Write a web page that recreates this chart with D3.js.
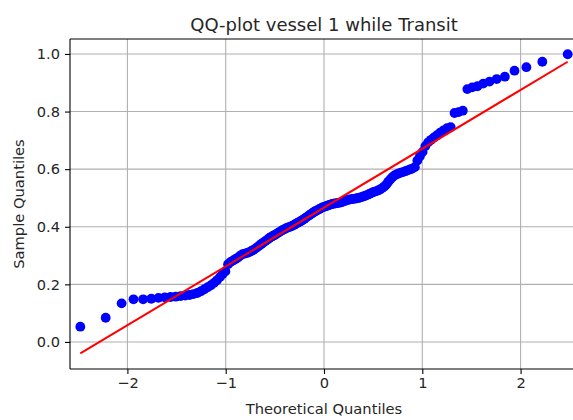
<!DOCTYPE html>
<html>
<head>
<meta charset="utf-8">
<script src="https://cdn.jsdelivr.net/npm/d3@7"></script>
<style>
  html, body { margin: 0; padding: 0; background: #fff; }
  svg { display: block; font-family: "DejaVu Sans", sans-serif; }
</style>
</head>
<body>
<svg id="chart" width="573" height="420"></svg>
<script>
// Theoretical normal quantiles (ascending)
const theoretical = [
  -2.479, -2.221, -2.059, -1.938, -1.840, -1.757, -1.684, -1.620, -1.561, -1.508,
  -1.458, -1.412, -1.369, -1.328, -1.289, -1.252, -1.217, -1.183, -1.150, -1.119,
  -1.089, -1.059, -1.031, -1.003, -0.976, -0.950, -0.924, -0.899, -0.875, -0.851,
  -0.828, -0.804, -0.782, -0.760, -0.738, -0.717, -0.695, -0.674, -0.654, -0.634,
  -0.614, -0.594, -0.574, -0.555, -0.536, -0.517, -0.498, -0.480, -0.461, -0.443,
  -0.425, -0.406, -0.389, -0.371, -0.354, -0.336, -0.319, -0.301, -0.284, -0.267,
  -0.250, -0.233, -0.216, -0.199, -0.183, -0.166, -0.149, -0.132, -0.116, -0.099,
  -0.083, -0.066, -0.050, -0.033, -0.017, 0.000, 0.017, 0.033, 0.050, 0.066,
  0.083, 0.099, 0.116, 0.132, 0.149, 0.166, 0.183, 0.199, 0.216, 0.233,
  0.250, 0.267, 0.284, 0.301, 0.319, 0.336, 0.354, 0.371, 0.389, 0.406,
  0.425, 0.443, 0.461, 0.480, 0.498, 0.517, 0.536, 0.555, 0.574, 0.594,
  0.614, 0.634, 0.654, 0.674, 0.695, 0.717, 0.738, 0.760, 0.782, 0.804,
  0.828, 0.851, 0.875, 0.899, 0.924, 0.950, 0.976, 1.003, 1.031, 1.059,
  1.089, 1.119, 1.150, 1.183, 1.217, 1.252, 1.289, 1.328, 1.369, 1.412,
  1.458, 1.508, 1.561, 1.620, 1.684, 1.757, 1.840, 1.938, 2.059, 2.221,
  2.479
];

// Ordered sample values
const sample = [
  0.053, 0.084, 0.134, 0.148, 0.148, 0.150, 0.153, 0.155, 0.156, 0.157,
  0.159, 0.161, 0.163, 0.166, 0.170, 0.176, 0.183, 0.190, 0.197, 0.205,
  0.214, 0.225, 0.236, 0.245, 0.270, 0.278, 0.283, 0.288, 0.293, 0.300,
  0.305, 0.307, 0.309, 0.312, 0.316, 0.320, 0.325, 0.330, 0.336, 0.341,
  0.346, 0.351, 0.356, 0.361, 0.365, 0.369, 0.372, 0.376, 0.380, 0.384,
  0.388, 0.391, 0.394, 0.397, 0.399, 0.401, 0.404, 0.407, 0.411, 0.414,
  0.417, 0.420, 0.424, 0.428, 0.432, 0.436, 0.440, 0.444, 0.448, 0.452,
  0.455, 0.458, 0.461, 0.464, 0.467, 0.469, 0.471, 0.473, 0.475, 0.477,
  0.479, 0.480, 0.481, 0.482, 0.483, 0.484, 0.486, 0.488, 0.490, 0.492,
  0.494, 0.495, 0.496, 0.497, 0.498, 0.499, 0.500, 0.502, 0.504, 0.506,
  0.508, 0.511, 0.514, 0.517, 0.520, 0.522, 0.524, 0.527, 0.530, 0.535,
  0.540, 0.547, 0.556, 0.564, 0.572, 0.578, 0.582, 0.585, 0.588, 0.590,
  0.593, 0.596, 0.599, 0.602, 0.607, 0.630, 0.645, 0.660, 0.680, 0.693,
  0.702, 0.710, 0.718, 0.727, 0.735, 0.742, 0.746, 0.795, 0.798, 0.803,
  0.878, 0.884, 0.888, 0.897, 0.904, 0.913, 0.921, 0.942, 0.954, 0.973,
  0.999
];

// Reference line end points
const lineX = [-2.479, 2.479];
const lineY = [-0.040, 0.973];

const xTicks = [-2, -1, 0, 1, 2];
const yTicks = [0.0, 0.2, 0.4, 0.6, 0.8, 1.0];

const titleText = "QQ-plot vessel 1 while Transit";
const xLabel = "Theoretical Quantiles";
const yLabel = "Sample Quantiles";

const svg = d3.select("#chart");
const plot = { left: 70, right: 578, top: 39, bottom: 369 };

const x = d3.scaleLinear().domain([-2.584, 2.584]).range([plot.left, plot.right]);
const y = d3.scaleLinear().domain([-0.094, 1.052]).range([plot.bottom, plot.top]);

svg.append("rect").attr("width", 573).attr("height", 420).attr("fill", "#fff");

svg.append("defs").append("clipPath").attr("id", "plotClip")
  .append("rect")
  .attr("x", plot.left).attr("y", plot.top)
  .attr("width", plot.right - plot.left).attr("height", plot.bottom - plot.top);

// grid
const grid = svg.append("g").attr("stroke", "#b0b0b0").attr("stroke-width", 1.1);
grid.selectAll("line.gx").data(xTicks).join("line")
  .attr("x1", d => x(d)).attr("x2", d => x(d))
  .attr("y1", plot.top).attr("y2", plot.bottom);
grid.selectAll("line.gy").data(yTicks).join("line")
  .attr("x1", plot.left).attr("x2", plot.right)
  .attr("y1", d => y(d)).attr("y2", d => y(d));

// points
const pts = d3.zip(theoretical, sample);
svg.append("g").attr("clip-path", "url(#plotClip)")
  .selectAll("circle").data(pts).join("circle")
  .attr("cx", d => x(d[0])).attr("cy", d => y(d[1]))
  .attr("r", 4.9).attr("fill", "#0000ff");

// reference line
svg.append("path")
  .datum(d3.zip(lineX, lineY))
  .attr("d", d3.line().x(d => x(d[0])).y(d => y(d[1])))
  .attr("fill", "none").attr("stroke", "#ff0000").attr("stroke-width", 2);

// axes
const xAxis = d3.axisBottom(x).tickValues(xTicks).tickSize(5).tickPadding(4)
  .tickFormat(d => d3.format("")(d).replace("-", "\u2212"));
const yAxis = d3.axisLeft(y).tickValues(yTicks).tickSize(5).tickPadding(5)
  .tickFormat(d3.format(".1f"));

const gx = svg.append("g").attr("transform", `translate(0,${plot.bottom})`).call(xAxis);
const gy = svg.append("g").attr("transform", `translate(${plot.left},0)`).call(yAxis);
[gx, gy].forEach(g => {
  g.select(".domain").remove();
  g.selectAll(".tick line").attr("stroke", "#000").attr("stroke-width", 1.1);
  g.selectAll(".tick text").attr("fill", "#262626").attr("font-size", 14.6)
    .attr("font-family", "DejaVu Sans");
});

// spines
const sp = svg.append("g").attr("stroke", "#000").attr("stroke-width", 1.1).attr("fill", "none");
sp.append("line").attr("x1", plot.left).attr("x2", plot.left).attr("y1", plot.top).attr("y2", plot.bottom);
sp.append("line").attr("x1", plot.left).attr("x2", plot.right).attr("y1", plot.top).attr("y2", plot.top);
sp.append("line").attr("x1", plot.left).attr("x2", plot.right).attr("y1", plot.bottom).attr("y2", plot.bottom);
sp.append("line").attr("x1", plot.right).attr("x2", plot.right).attr("y1", plot.top).attr("y2", plot.bottom);

// title and labels
svg.append("text").attr("x", (plot.left + plot.right) / 2).attr("y", 31)
  .attr("text-anchor", "middle").attr("font-size", 18).attr("fill", "#262626")
  .text(titleText);
svg.append("text").attr("x", (plot.left + plot.right) / 2).attr("y", 414)
  .attr("text-anchor", "middle").attr("font-size", 14.7).attr("fill", "#262626")
  .text(xLabel);
svg.append("text")
  .attr("transform", `translate(24,${(plot.top + plot.bottom) / 2}) rotate(-90)`)
  .attr("text-anchor", "middle").attr("font-size", 14.7).attr("fill", "#262626")
  .text(yLabel);
</script>
</body>
</html>
